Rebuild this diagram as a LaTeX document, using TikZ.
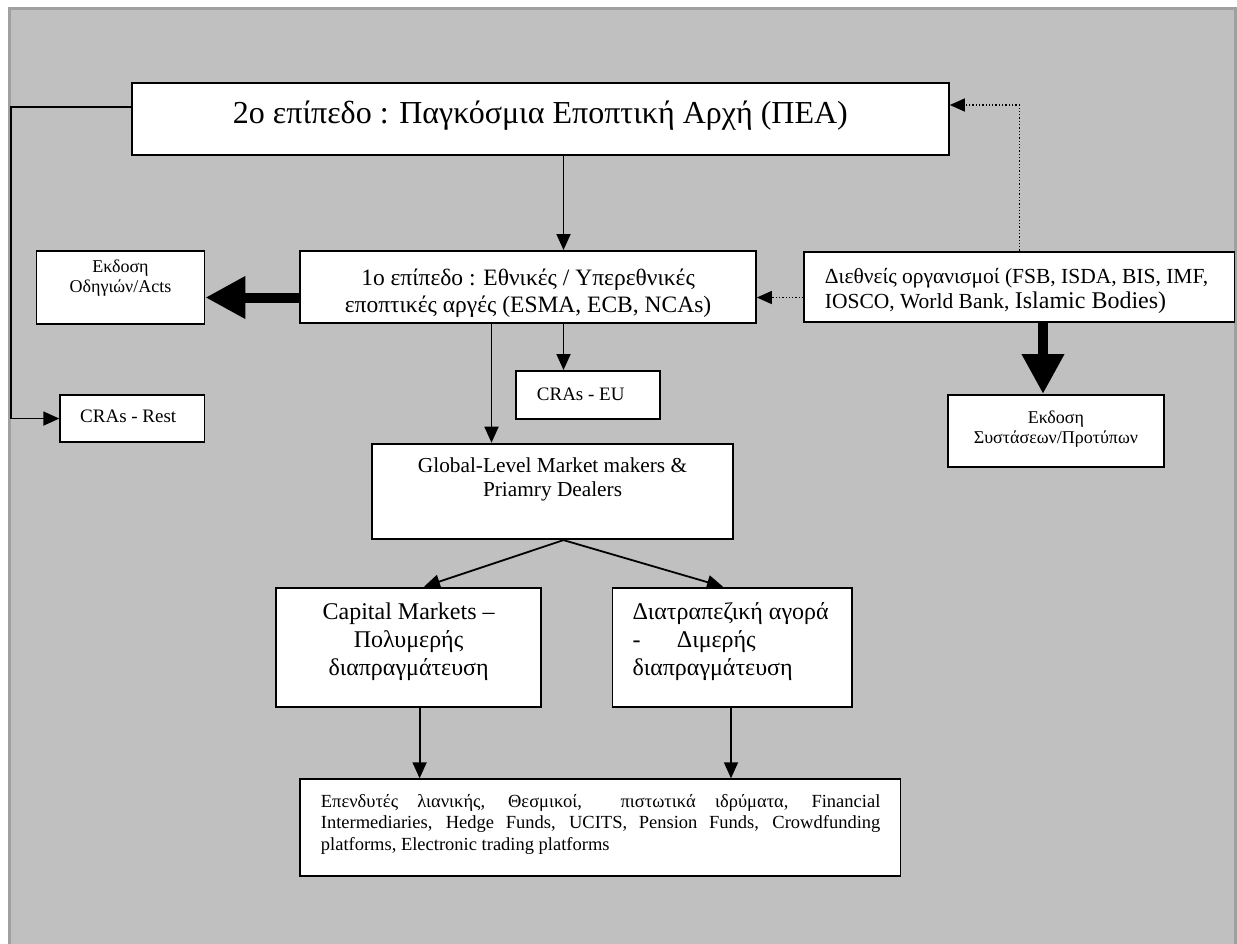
\documentclass[tikz,border=0pt]{standalone}
\usepackage{fontspec}
\setmainfont{Liberation Serif}
\usetikzlibrary{arrows.meta,calc}
\definecolor{bggray}{HTML}{C0C0C0}
\definecolor{edgegray}{HTML}{A0A0A0}
\newcommand{\fs}[2]{\fontsize{#1pt}{#2pt}\selectfont}
\newcommand{\cbox}[4]{\parbox[t][#2pt][t]{#1pt}{\centering\rule{0pt}{#3pt}#4}}
\newcommand{\lbox}[5]{\parbox[t][#2pt][t]{#1pt}{\raggedright\leftskip=#4pt\rule{0pt}{#3pt}#5}}
\begin{document}
\begin{tikzpicture}[x=1pt,y=-1pt,
  box/.style={draw=black, line width=1.8pt, fill=white, inner sep=0pt, anchor=north west},
  conn/.style={line width=1.8pt, -{Triangle[length=16pt,width=14pt]}},
  dotconn/.style={line width=1.3pt, dash pattern=on 1.3pt off 2pt, -{Triangle[length=15pt,width=13pt]}},
  bigarrow/.style={line width=10pt, -{Triangle[length=40pt,width=40pt]}}]
\useasboundingbox (0,0) rectangle (1237,943);
\fill[white] (0,0) rectangle (1237,943);
\draw[edgegray, line width=2.7pt, fill=bggray] (9.6,8.6) rectangle (1235.6,950);

% boxes
\node[box] (top) at (131,82) {\cbox{817}{72}{41}{\fs{32}{38}2ο επίπεδο : Παγκόσμια Εποπτική Αρχή (ΠΕΑ)}};
\node[box] (lvl1) at (299.3,250) {\cbox{455.7}{72}{35}{\fs{23.5}{26.7}1ο επίπεδο : Εθνικές / Υπερεθνικές\\εποπτικές αργές (ESMA, ECB, NCAs)}};
\node[box] (acts) at (35.6,250) {\cbox{168}{72.7}{21.7}{\fs{18}{20}Εκδοση\\Οδηγιών/Acts}};
\node[box] (intl) at (803.3,250.7) {\lbox{430.2}{70.3}{32.3}{20.7}{\fs{21.5}{25}Διεθνείς οργανισμοί (FSB, ISDA, BIS, IMF,\\IOSCO, World Bank, {\fs{24}{25}Islamic Bodies)}}};
\node[box] (sys) at (947,394) {\cbox{216}{72}{28.3}{\fs{18}{20}Εκδοση\\Συστάσεων/Προτύπων}};
\node[box] (craseu) at (515,370) {\lbox{144}{47.7}{29.3}{21}{\fs{19}{22}CRAs - EU}};
\node[box] (crasrest) at (59.3,394.3) {\lbox{144.3}{46.7}{27}{20}{\fs{19}{22}CRAs - Rest}};
\node[box] (global) at (371.3,442.7) {\cbox{360.7}{95.6}{29}{\fs{21.3}{24}Global-Level Market makers \&\\Priamry Dealers}};
\node[box] (capital) at (275.4,586.7) {\cbox{264.6}{119.3}{32.3}{\fs{24}{28}Capital Markets –\\Πολυμερής\\διαπραγμάτευση}};
\node[box] (inter) at (611.5,586.7) {\lbox{239.7}{119.3}{32.3}{20.1}{\fs{24}{28}Διατραπεζική αγορά\\\makebox[44.4pt][l]{-}Διμερής\\διαπραγμάτευση}};
\node[box] (invest) at (299,778.3) {\lbox{600.6}{96.7}{28.4}{21}{\fs{18.5}{21.3}\makebox[559.5pt][s]{Επενδυτές λιανικής, Θεσμικοί,\ \ πιστωτικά ιδρύματα, Financial}\\\makebox[559.5pt][s]{Intermediaries, Hedge Funds, UCITS, Pension Funds, Crowdfunding}\\platforms, Electronic trading platforms}};

% helper coordinates
\coordinate (xa) at (563.5,0);
\coordinate (xb) at (491.5,0);
\coordinate (ya) at (0,297.5);
\coordinate (yt) at (0,105);
\coordinate (xd) at (1019.3,0);
\coordinate (xt) at (1043,0);
\coordinate (lq) at (10.7,106.7);
\coordinate (xc1) at (424,0);
\coordinate (xc2) at (723,0);
\coordinate (xl1) at (419.6,0);
\coordinate (xl2) at (731,0);

% connectors
\draw[conn] (lq -| top.west) -- (lq) |- (crasrest.west);
\draw[conn] (xa |- top.south) -- (xa |- lvl1.north);
\draw[conn] (xa |- lvl1.south) -- (xa |- craseu.north);
\draw[conn] (xb |- lvl1.south) -- (xb |- global.north);
\draw[bigarrow] (lvl1.west |- ya) -- (acts.east |- ya);
\draw[dotconn] (intl.west |- ya) -- (lvl1.east |- ya);
\draw[dotconn] (xd |- intl.north) |- (top.east |- yt);
\draw[bigarrow] (xt |- intl.south) -- (xt |- sys.north);
\draw[conn] (xa |- global.south) -- (xc1 |- capital.north);
\draw[conn] (xa |- global.south) -- (xc2 |- inter.north);
\draw[conn] (xl1 |- capital.south) -- (xl1 |- invest.north);
\draw[conn] (xl2 |- inter.south) -- (xl2 |- invest.north);
\end{tikzpicture}
\end{document}
